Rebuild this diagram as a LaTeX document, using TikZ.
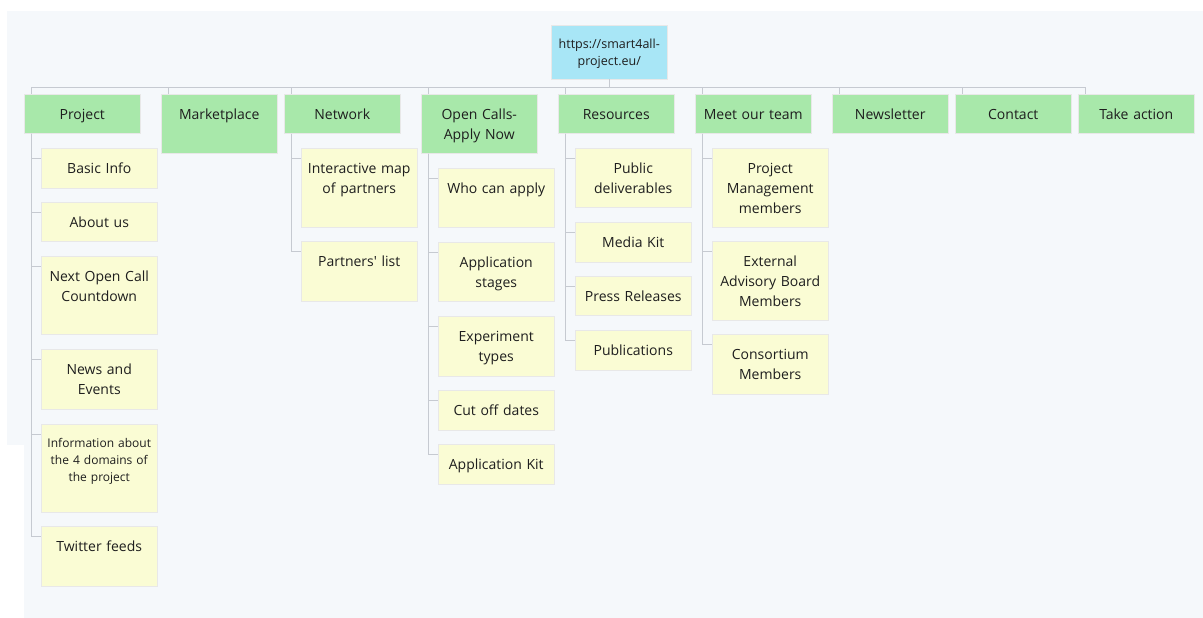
\documentclass[tikz,border=0pt]{standalone}
\usepackage{fontspec}
\setmainfont{Open Sans}
\usepackage{xcolor}
\usepackage{tikz}
\usetikzlibrary{shadows}

\definecolor{bgblue}{HTML}{F5F8FB}
\definecolor{menugreen}{HTML}{A8E8AA}
\definecolor{pageyellow}{HTML}{FAFCD4}
\definecolor{sitecyan}{HTML}{A8E6F6}
\definecolor{linegray}{HTML}{C6CAD1}
\definecolor{inkgray}{HTML}{1E1E1E}

\begin{document}
\begin{tikzpicture}[x=1pt,y=-1pt,
  card/.style={anchor=north west, inner sep=0pt, text width=116pt, align=center,
    text height=25.5pt, text depth=13.5pt, draw=black!9, line width=.5pt, text=inkgray,
    font=\fontsize{14}{20}\selectfont,
    drop shadow={opacity=.18, shadow xshift=.8pt, shadow yshift=-1pt}},
  menu/.style={card, fill=menugreen},
  page/.style={card, fill=pageyellow},
  boxdepth/.style={text depth=#1},
  link/.style={draw=linegray, line width=.8pt}]

\useasboundingbox (0,0) rectangle (1203,618);
\fill[white] (0,0) rectangle (1203,618);
\fill[bgblue] (7,11) rectangle (1203,445);
\fill[bgblue] (24,11) rectangle (1203,618);

\node[card, fill=sitecyan, font=\fontsize{12.5}{17.5}\selectfont, text height=23pt, boxdepth=31pt]
    (site) at (551,25) {https://smart4all-\\project.eu/};

    % main menu
    \node[menu] (project) at (24,94) {Project};
    \node[menu, boxdepth=33.5pt] (market) at (161,94) {Marketplace};
    \node[menu] (network) at (284,94) {Network};
    \node[menu, boxdepth=33.5pt] (calls) at (421,94) {Open Calls-\\Apply Now};
    \node[menu] (resources) at (558,94) {Resources};
    \node[menu] (team) at (695,94) {Meet our team};
    \node[menu] (newsletter) at (832,94) {Newsletter};
    \node[menu] (contact) at (955,94) {Contact};
    \node[menu] (action) at (1078,94) {Take action};

    % project pages
    \node[page, boxdepth=14.5pt] (basic) at (41,148) {Basic Info};
    \node[page] (about) at (41,202) {About us};
    \node[page, boxdepth=52.5pt] (countdown) at (41,256) {Next Open Call\\Countdown};
    \node[page, boxdepth=34.5pt] (events) at (41,349) {News and\\Events};
    \node[page, font=\fontsize{12}{17}\selectfont, text height=23pt, boxdepth=65pt]
        (domains) at (41,424) {Information about\\the 4 domains of\\the project};
    \node[page, boxdepth=34.5pt] (twitter) at (41,526) {Twitter feeds};

    % network pages
    \node[page, boxdepth=53.5pt] (map) at (301,148) {Interactive map\\of partners};
    \node[page, boxdepth=34.5pt] (partners) at (301,241) {Partners\textquotesingle{} list};

    % open calls pages
    \node[page, boxdepth=33.5pt] (who) at (438,168) {Who can apply};
    \node[page, boxdepth=33.5pt] (stages) at (438,242) {Application\\stages};
    \node[page, boxdepth=34.5pt] (types) at (438,316) {Experiment\\types};
    \node[page, boxdepth=14.5pt] (dates) at (438,390) {Cut off dates};
    \node[page, boxdepth=14.5pt] (kit) at (438,444) {Application Kit};

    % resources pages
    \node[page, boxdepth=33.5pt] (deliv) at (575,148) {Public\\deliverables};
    \node[page, boxdepth=14.5pt] (media) at (575,222) {Media Kit};
    \node[page] (press) at (575,276) {Press Releases};
    \node[page, boxdepth=14.5pt] (pubs) at (575,330) {Publications};

    % team pages
    \node[page, boxdepth=53.5pt] (pm) at (712,148) {Project\\Management\\members};
    \node[page, boxdepth=53.5pt] (board) at (712,241) {External\\Advisory Board\\Members};
    \node[page, boxdepth=34.5pt] (consort) at (712,334) {Consortium\\Members};

    % draw the links
    \draw[link] (site.south) |- ([xshift=7pt,yshift=7pt]project.north west) -- ([xshift=7pt]project.north west);
    \draw[link] (site.south) |- ([xshift=7pt,yshift=7pt]market.north west) -- ([xshift=7pt]market.north west);
    \draw[link] (site.south) |- ([xshift=7pt,yshift=7pt]network.north west) -- ([xshift=7pt]network.north west);
    \draw[link] (site.south) |- ([xshift=7pt,yshift=7pt]calls.north west) -- ([xshift=7pt]calls.north west);
    \draw[link] (site.south) |- ([xshift=7pt,yshift=7pt]resources.north west) -- ([xshift=7pt]resources.north west);
    \draw[link] (site.south) |- ([xshift=7pt,yshift=7pt]team.north west) -- ([xshift=7pt]team.north west);
    \draw[link] (site.south) |- ([xshift=7pt,yshift=7pt]newsletter.north west) -- ([xshift=7pt]newsletter.north west);
    \draw[link] (site.south) |- ([xshift=7pt,yshift=7pt]contact.north west) -- ([xshift=7pt]contact.north west);
    \draw[link] (site.south) |- ([xshift=7pt,yshift=7pt]action.north west) -- ([xshift=7pt]action.north west);

    \draw[link] ([xshift=7pt]project.south west) |- ([yshift=-10pt]basic.north west);
    \draw[link] ([xshift=7pt]project.south west) |- ([yshift=-10pt]about.north west);
    \draw[link] ([xshift=7pt]project.south west) |- ([yshift=-10pt]countdown.north west);
    \draw[link] ([xshift=7pt]project.south west) |- ([yshift=-10pt]events.north west);
    \draw[link] ([xshift=7pt]project.south west) |- ([yshift=-10pt]domains.north west);
    \draw[link] ([xshift=7pt]project.south west) |- ([yshift=-10pt]twitter.north west);

    \draw[link] ([xshift=7pt]network.south west) |- ([yshift=-10pt]map.north west);
    \draw[link] ([xshift=7pt]network.south west) |- ([yshift=-10pt]partners.north west);

    \draw[link] ([xshift=7pt]calls.south west) |- ([yshift=-10pt]who.north west);
    \draw[link] ([xshift=7pt]calls.south west) |- ([yshift=-10pt]stages.north west);
    \draw[link] ([xshift=7pt]calls.south west) |- ([yshift=-10pt]types.north west);
    \draw[link] ([xshift=7pt]calls.south west) |- ([yshift=-10pt]dates.north west);
    \draw[link] ([xshift=7pt]calls.south west) |- ([yshift=-10pt]kit.north west);

    \draw[link] ([xshift=7pt]resources.south west) |- ([yshift=-10pt]deliv.north west);
    \draw[link] ([xshift=7pt]resources.south west) |- ([yshift=-10pt]media.north west);
    \draw[link] ([xshift=7pt]resources.south west) |- ([yshift=-10pt]press.north west);
    \draw[link] ([xshift=7pt]resources.south west) |- ([yshift=-10pt]pubs.north west);

    \draw[link] ([xshift=7pt]team.south west) |- ([yshift=-10pt]pm.north west);
    \draw[link] ([xshift=7pt]team.south west) |- ([yshift=-10pt]board.north west);
    \draw[link] ([xshift=7pt]team.south west) |- ([yshift=-10pt]consort.north west);

\end{tikzpicture}
\end{document}
